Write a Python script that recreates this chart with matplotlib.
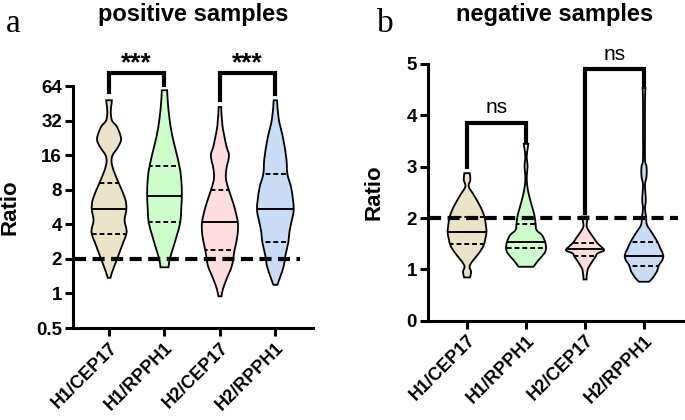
import numpy as np
import matplotlib
matplotlib.use("Agg")
import matplotlib.pyplot as plt
from matplotlib.path import Path
from matplotlib.patches import PathPatch

plt.rcParams['font.family'] = ['Liberation Sans', 'DejaVu Sans']

categories = ['H1/CEP17', 'H1/RPPH1', 'H2/CEP17', 'H2/RPPH1']
colors = ['#EBE3C7', '#CCFDCB', '#FEDDE0', '#C9DCF5']

# ---- panel a (positive samples): violin profiles (value, relative half-width) ----
a1_y = [48.2, 45, 38, 32, 28.2, 22.3, 18.9, 16, 14, 11.8, 9.0, 6.7, 5.46, 4.33, 3.41, 2.62, 2.0, 1.53, 1.37]
a1_w = [2.8, 2.5, 1.7, 3, 8, 12, 9, 3.5, 2.5, 4.5, 10, 16, 17.3, 15.5, 17.5, 13, 8, 3, 1.5]
a2_y = [58.9, 46.6, 33.3, 23.8, 17.05, 13.05, 9.98, 7.14, 5.46, 4.18, 3.2, 2.44, 2.0, 1.69]
a2_w = [2.7, 3.3, 5, 7.7, 11.7, 14.7, 16.7, 17.3, 16.7, 15.8, 12.3, 8.3, 5.3, 4]
a3_y = [42.1, 29.1, 19.5, 15.9, 12.2, 9.98, 7.9, 5.84, 4.18, 3.2, 2.36, 1.75, 1.34, 1.09, 0.945]
a3_w = [1.3, 2.5, 6.3, 9, 6.5, 6, 9, 14, 17.8, 17.5, 14.5, 12, 6.7, 3, 1.5]
a4_y = [48.1, 33.3, 22.3, 14.9, 11.0, 8.16, 5.46, 4.18, 3.42, 2.8, 2.14, 1.75, 1.43, 1.19]
a4_w = [1.7, 3.3, 7.8, 11, 12, 16, 18.3, 16, 14, 13, 10, 8.5, 5.3, 2]
a_median = [5.46, 7.05, 4.18, 5.46]
a_q1 = [3.29, 4.17, 2.41, 2.83]
a_q3 = [9.1, 12.8, 7.9, 11.0]
a_yticks = [0.5, 1, 2, 4, 8, 16, 32, 64]
a_yticklabels = ['0.5', '1', '2', '4', '8', '16', '32', '64']

# ---- panel b (negative samples) ----
b1_y = [2.873, 2.743, 2.613, 2.45, 2.223, 2.028, 1.833, 1.703, 1.476, 1.313, 1.151, 1.053, 0.956, 0.845]
b1_w = [2.7, 3.3, 1.7, 6.7, 13.3, 17.3, 19, 19.3, 16.7, 11.7, 5, 2.5, 4, 3]
b2_y = [3.444, 3.36, 3.198, 3.003, 2.808, 2.613, 2.418, 2.223, 2.06, 1.898, 1.768, 1.671, 1.541, 1.411, 1.313, 1.183, 1.053]
b2_w = [2.3, 1.7, 0.7, 1.5, 0.7, 1.3, 3.3, 6, 8.3, 9.5, 10.5, 15.8, 19, 20, 18.3, 12.5, 7.5]
b3_y = [2.028, 1.93, 1.833, 1.736, 1.606, 1.508, 1.411, 1.365, 1.313, 1.248, 1.118, 0.988, 0.806]
b3_w = [3, 2, 1.7, 4.3, 9, 12.5, 18, 18.7, 12.5, 10.5, 6, 2.5, 1.5]
b4_y = [4.53, 4.302, 3.652, 3.133, 3.003, 2.808, 2.645, 2.353, 2.19, 2.028, 1.866, 1.703, 1.541, 1.411, 1.281, 1.183, 1.086, 0.956, 0.826, 0.761]
b4_w = [1.5, 1.0, 1.0, 1.0, 2.5, 2.5, 1.0, 1.8, 1.0, 2, 3, 8.3, 13.3, 16.3, 19.2, 18.3, 15, 12.7, 8.3, 5]
b_median = [1.73, 1.53, 1.40, 1.26]
b_q1 = [1.49, 1.41, 1.26, 1.07]
b_q3 = [2.03, 1.88, 1.51, 1.53]

# significance annotations: (left cat, right cat, top, left-leg bottom, right-leg bottom, text, text y)
a_brackets = [(0, 1, 84, 57, 65, '***', 80), (2, 3, 84, 48, 55, '***', 80)]
b_brackets = [(0, 1, 3.85, 3.0, 3.49, 'ns', 4.15), (2, 3, 4.89, 2.09, 4.59, 'ns', 5.19)]
threshold = 2


def catmull(pts):
    """Bezier (CURVE4) segments through the given points (open curve)."""
    p = np.vstack([pts[0], pts, pts[-1]])
    verts = []
    for i in range(1, len(p) - 2):
        c1 = p[i] + (p[i + 1] - p[i - 1]) / 6.0
        c2 = p[i + 1] - (p[i + 2] - p[i]) / 6.0
        verts += [c1, c2, p[i + 1]]
    return verts


def violin_path(c, ys, ws, fwd, inv):
    ty = fwd(np.asarray(ys, float))
    right = np.column_stack([c + ws, ty])
    left = np.column_stack([c - ws, ty])[::-1]
    verts = [right[0]]
    codes = [Path.MOVETO]
    seg = catmull(right)
    verts += seg; codes += [Path.CURVE4] * len(seg)
    verts.append(left[0]); codes.append(Path.LINETO)
    seg = catmull(left)
    verts += seg; codes += [Path.CURVE4] * len(seg)
    verts.append(right[0]); codes.append(Path.CLOSEPOLY)
    v = np.array(verts)
    v[:, 1] = inv(v[:, 1])
    return Path(v, codes)


def draw_violin(ax, c, ys, ws, scale, color, med, q1, q3, fwd, inv):
    ws = np.asarray(ws, float) * scale
    patch = PathPatch(violin_path(c, ys, ws, fwd, inv), facecolor=color,
                      edgecolor='black', lw=1.3, zorder=2, transform=ax.transData)
    ax.add_patch(patch)
    l, = ax.plot([c - 0.45, c + 0.45], [med, med], color='black', lw=1.4, zorder=3)
    l.set_clip_path(patch)
    for q in (q1, q3):
        l, = ax.plot([c - 0.45, c + 0.45], [q, q], color='black', lw=1.4,
                     dashes=(2.5, 1.5), zorder=3)
        l.set_clip_path(patch)


def style_axes(ax):
    for s in ['top', 'right']:
        ax.spines[s].set_visible(False)
    for s in ['left', 'bottom']:
        ax.spines[s].set_linewidth(2.2)
    ax.tick_params(axis='both', width=2.2, length=6, labelsize=13.5, pad=2)
    ax.set_xticks(range(4))
    ax.set_xticklabels(categories, rotation=45, ha='right', rotation_mode='anchor',
                       fontweight='bold', fontsize=13)
    for t in ax.get_yticklabels():
        t.set_fontweight('bold')
    ax.set_ylabel('Ratio', fontsize=16, fontweight='bold')


fig = plt.figure(figsize=(6.85, 4.2), dpi=100)

# panel a
axa = fig.add_axes([0.1066, 0.219, 0.3504, 0.576])
axa.set_yscale('log', base=2)
axa.set_ylim(0.5, 64)
axa.set_xlim(-0.65, 3.68)
prof_a = [(a1_y, a1_w), (a2_y, a2_w), (a3_y, a3_w), (a4_y, a4_w)]
for i, (ys, ws) in enumerate(prof_a):
    draw_violin(axa, i, ys, ws, 1 / 55.3, colors[i], a_median[i], a_q1[i], a_q3[i],
                np.log2, lambda v: 2.0 ** v)
axa.set_yticks(a_yticks)
axa.set_yticklabels(a_yticklabels)
axa.minorticks_off()
style_axes(axa)
axa.yaxis.set_label_coords(-0.22, 0.5)
axa.plot([-0.64, 3.45], [threshold, threshold], color='black', lw=3, dashes=(2.9, 1.55), zorder=5)
for l, r, top, lb, rb, txt, ty in a_brackets:
    axa.plot([l, l, r, r], [lb, top, top, rb], color='black', lw=3, clip_on=False,
             solid_joinstyle='miter', zorder=5)
    axa.text((l + r) / 2, ty, txt, ha='center', va='bottom', fontsize=19,
             fontweight='bold', clip_on=False)

# panel b
axb = fig.add_axes([0.625, 0.236, 0.372, 0.612])
axb.set_ylim(0, 5)
axb.set_xlim(-0.66, 3.66)
prof_b = [(b1_y, b1_w), (b2_y, b2_w), (b3_y, b3_w), (b4_y, b4_w)]
for i, (ys, ws) in enumerate(prof_b):
    draw_violin(axb, i, ys, ws, 1 / 59.0, colors[i], b_median[i], b_q1[i], b_q3[i],
                lambda v: v, lambda v: v)
axb.set_yticks([0, 1, 2, 3, 4, 5])
style_axes(axb)
axb.yaxis.set_label_coords(-0.173, 0.5)
axb.plot([-0.64, 3.58], [threshold, threshold], color='black', lw=3, dashes=(2.9, 1.55), zorder=5)
for l, r, top, lb, rb, txt, ty in b_brackets:
    axb.plot([l, l, r, r], [lb, top, top, rb], color='black', lw=3, clip_on=False,
             solid_joinstyle='miter', zorder=5)
    axb.text((l + r) / 2, ty, txt, ha='center', va='center', fontsize=15, clip_on=False)

fig.text(193 / 685, 1 - 21 / 420, 'positive samples', ha='center', va='baseline',
         fontsize=17, fontweight='bold')
fig.text(555 / 685, 1 - 21 / 420, 'negative samples', ha='center', va='baseline',
         fontsize=17, fontweight='bold')
fig.text(6 / 685, 1 - 32 / 420, 'a', ha='left', va='baseline', fontsize=24,
         family='Liberation Serif')
fig.text(377 / 685, 1 - 32 / 420, 'b', ha='left', va='baseline', fontsize=24,
         family='Liberation Serif')

fig.savefig('out.png', dpi=100)
